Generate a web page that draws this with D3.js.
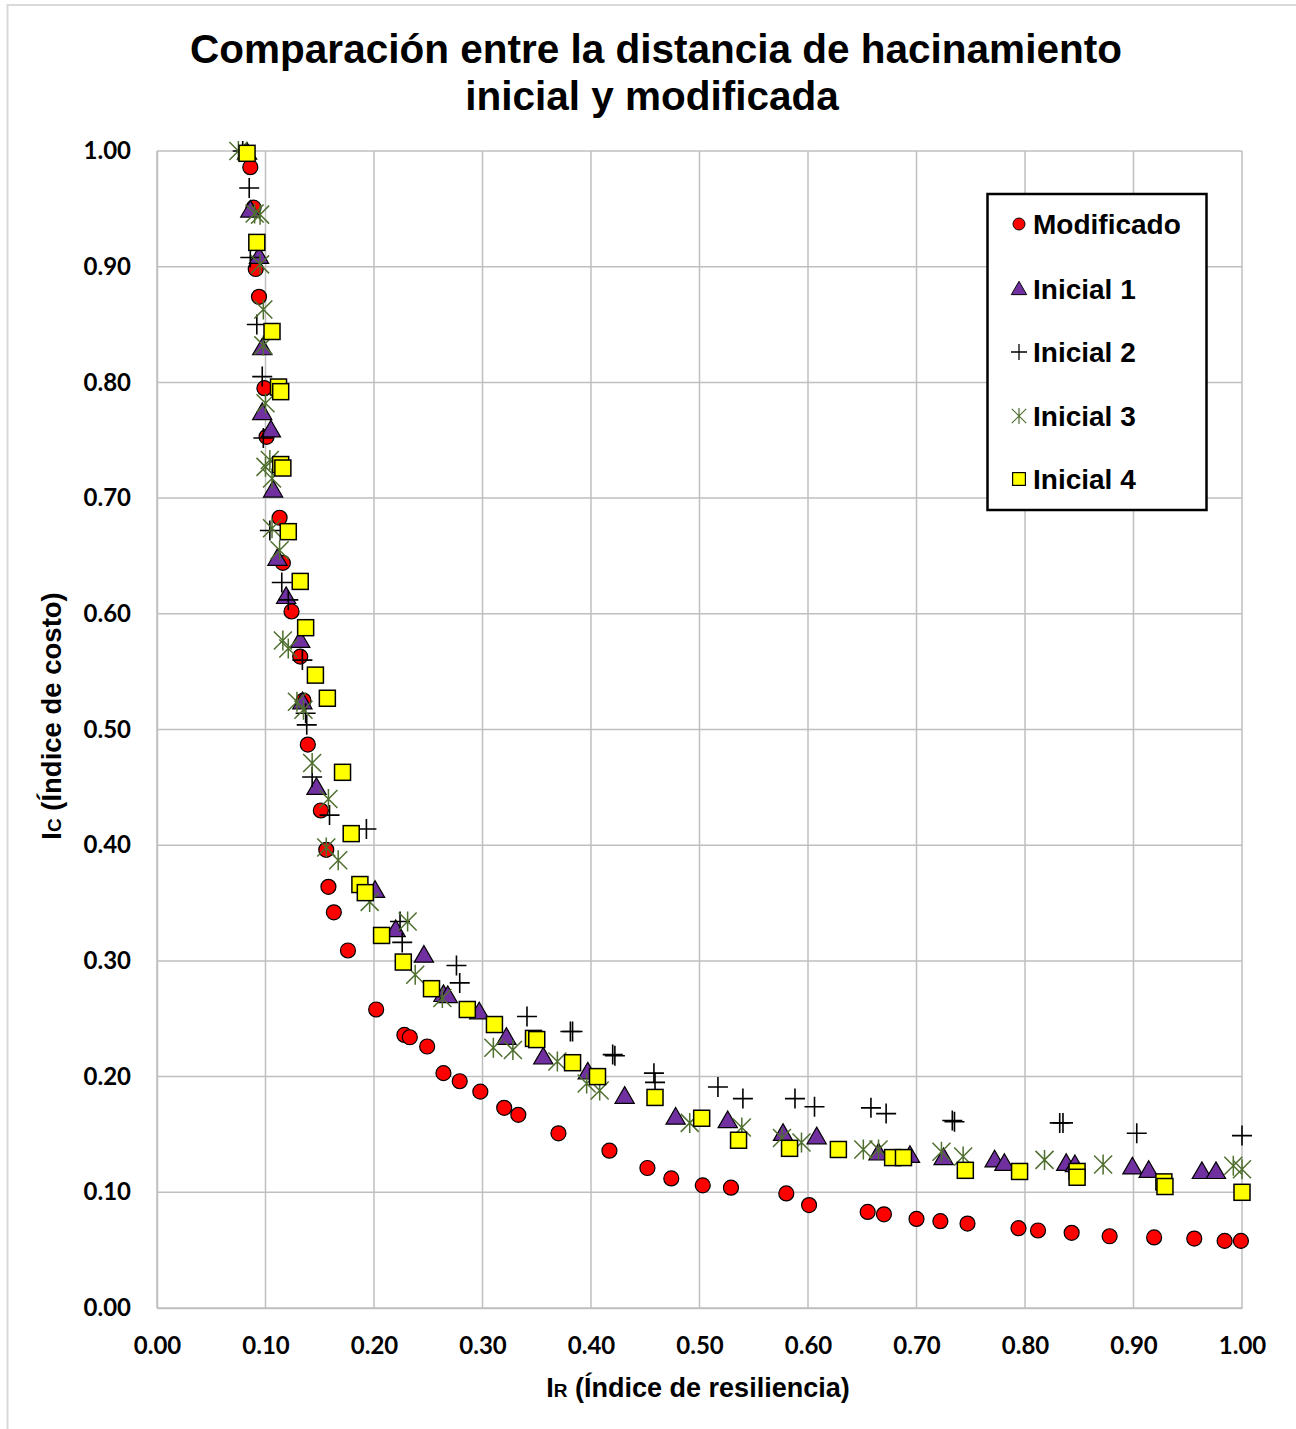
<!DOCTYPE html>
<html>
<head>
<meta charset="utf-8">
<script src="https://cdn.jsdelivr.net/npm/d3@7"></script>
<style>
  html, body { margin: 0; padding: 0; background: #fff; }
  svg { display: block; }
</style>
</head>
<body>
<svg id="chart" width="1296" height="1429"></svg>
<script>
// Curva de compromiso costo–resiliencia: IR (x) frente a IC (y)
const modificadoX = [0.086,0.089,0.091,0.094,0.099,0.101,0.113,0.116,0.124,0.132,0.135,0.139,0.151,0.156,0.158,0.163,0.176,0.202,0.228,0.233,0.249,0.264,0.279,0.298,0.320,0.333,0.370,0.417,0.452,0.474,0.503,0.529,0.580,0.601,0.655,0.670,0.700,0.722,0.747,0.794,0.812,0.843,0.878,0.919,0.956,0.984,0.999];
const modificadoY = [0.986,0.951,0.898,0.874,0.795,0.753,0.683,0.644,0.602,0.563,0.525,0.487,0.430,0.396,0.364,0.342,0.309,0.258,0.236,0.234,0.226,0.203,0.196,0.187,0.173,0.167,0.151,0.136,0.121,0.112,0.106,0.104,0.099,0.089,0.083,0.081,0.077,0.075,0.073,0.069,0.067,0.065,0.062,0.061,0.060,0.058,0.058];

const inicial1X = [0.083,0.086,0.094,0.097,0.097,0.105,0.107,0.111,0.119,0.132,0.134,0.147,0.201,0.220,0.246,0.264,0.268,0.297,0.322,0.356,0.397,0.431,0.478,0.526,0.577,0.608,0.665,0.694,0.725,0.772,0.781,0.838,0.846,0.899,0.914,0.963,0.976];
const inicial1Y = [0.999,0.949,0.909,0.830,0.774,0.759,0.707,0.648,0.615,0.577,0.524,0.450,0.361,0.327,0.305,0.271,0.270,0.256,0.234,0.217,0.204,0.183,0.165,0.162,0.151,0.148,0.134,0.132,0.130,0.128,0.125,0.125,0.124,0.122,0.119,0.118,0.118];

const inicial2X = [0.079,0.085,0.086,0.092,0.097,0.098,0.104,0.115,0.121,0.134,0.137,0.138,0.143,0.159,0.193,0.224,0.226,0.276,0.279,0.341,0.381,0.383,0.420,0.422,0.458,0.459,0.517,0.540,0.588,0.606,0.658,0.672,0.733,0.735,0.832,0.835,0.903,1.000];
const inicial2Y = [1.000,0.968,0.908,0.850,0.805,0.752,0.672,0.627,0.612,0.560,0.514,0.504,0.459,0.426,0.414,0.334,0.316,0.296,0.281,0.252,0.239,0.239,0.219,0.218,0.203,0.195,0.191,0.181,0.181,0.174,0.173,0.168,0.162,0.161,0.160,0.160,0.151,0.149];

const inicial3X = [0.075,0.090,0.095,0.095,0.098,0.098,0.100,0.104,0.100,0.106,0.106,0.113,0.116,0.121,0.129,0.135,0.143,0.158,0.156,0.167,0.196,0.231,0.238,0.263,0.310,0.328,0.369,0.396,0.408,0.491,0.539,0.576,0.594,0.651,0.665,0.723,0.743,0.818,0.872,0.992,1.000];
const inicial3Y = [1.000,0.946,0.945,0.902,0.863,0.832,0.782,0.733,0.727,0.717,0.674,0.655,0.577,0.570,0.524,0.517,0.471,0.440,0.398,0.387,0.351,0.334,0.288,0.268,0.225,0.223,0.213,0.194,0.188,0.160,0.156,0.147,0.143,0.137,0.137,0.135,0.131,0.128,0.124,0.123,0.120];

const inicial4X = [0.083,0.092,0.106,0.112,0.114,0.114,0.116,0.121,0.132,0.137,0.146,0.157,0.171,0.179,0.187,0.192,0.207,0.227,0.253,0.286,0.311,0.347,0.350,0.383,0.406,0.459,0.502,0.536,0.583,0.628,0.678,0.688,0.745,0.795,0.848,0.848,0.928,0.929,1.000];
const inicial4Y = [0.998,0.921,0.844,0.796,0.792,0.729,0.726,0.671,0.628,0.588,0.547,0.527,0.463,0.410,0.366,0.359,0.322,0.299,0.276,0.258,0.245,0.233,0.232,0.212,0.200,0.182,0.164,0.145,0.138,0.137,0.130,0.130,0.119,0.118,0.118,0.113,0.109,0.105,0.100];

const tickValues = [0,0.1,0.2,0.3,0.4,0.5,0.6,0.7,0.8,0.9,1.0];
const seriesNames = ["Modificado","Inicial 1","Inicial 2","Inicial 3","Inicial 4"];

const svg = d3.select("#chart");
const W = 1296, H = 1429;
const plot = {left: 157, right: 1242, top: 151, bottom: 1308};

const x = d3.scaleLinear().domain([0,1]).range([plot.left, plot.right]);
const y = d3.scaleLinear().domain([0,1]).range([plot.bottom, plot.top]);

// marco exterior del gráfico
svg.append("rect").attr("x",7.5).attr("y",5).attr("width",W+20).attr("height",H+20)
  .attr("fill","#fff").attr("stroke","#d9d9d9").attr("stroke-width",2);

// título
const title = svg.append("text").attr("text-anchor","middle")
  .attr("font-family","'Liberation Sans', Arial, sans-serif").attr("font-weight","bold")
  .attr("font-size",40.5).attr("fill","#000");
title.append("tspan").attr("x",656).attr("y",63).text("Comparación entre la distancia de hacinamiento");
title.append("tspan").attr("x",652).attr("y",110).text("inicial y modificada");

// cuadrícula
const grid = svg.append("g");
grid.selectAll("line.v").data(tickValues).join("line")
  .attr("x1",d=>x(d)).attr("x2",d=>x(d)).attr("y1",plot.top).attr("y2",plot.bottom)
  .attr("stroke","#bfbfbf").attr("stroke-width",1.5);
grid.selectAll("line.h").data(tickValues).join("line")
  .attr("x1",plot.left).attr("x2",plot.right).attr("y1",d=>y(d)).attr("y2",d=>y(d))
  .attr("stroke","#bfbfbf").attr("stroke-width",1.5);

// ejes
const fmt = d3.format(".2f");
const xAxis = svg.append("g").attr("transform",`translate(0,${plot.bottom})`)
  .call(d3.axisBottom(x).tickValues(tickValues).tickFormat(fmt).tickSize(0).tickPadding(29));
const yAxis = svg.append("g").attr("transform",`translate(${plot.left},0)`)
  .call(d3.axisLeft(y).tickValues(tickValues).tickFormat(fmt).tickSize(0).tickPadding(26));
[xAxis,yAxis].forEach(a=>{
  a.select(".domain").attr("stroke","#bfbfbf").attr("stroke-width",1.5);
  a.selectAll("text").attr("font-family","Lato, 'Open Sans', sans-serif")
    .attr("font-weight","bold").attr("font-size",24).attr("fill","#000");
});
xAxis.selectAll("text").attr("dy","0.71em");

// títulos de ejes
const axFont = "'Liberation Sans', Arial, sans-serif";
const xt = svg.append("text").attr("x",698).attr("y",1397).attr("text-anchor","middle")
  .attr("font-family",axFont).attr("font-weight","bold").attr("font-size",27).attr("fill","#000");
xt.append("tspan").text("I");
xt.append("tspan").attr("font-size",19).text("R");
xt.append("tspan").text(" (Índice de resiliencia)");

const yt = svg.append("text").attr("transform","translate(61,716) rotate(-90)").attr("text-anchor","middle")
  .attr("font-family",axFont).attr("font-weight","bold").attr("font-size",27.5).attr("fill","#000");
yt.append("tspan").text("I");
yt.append("tspan").attr("font-size",19).text("C");
yt.append("tspan").text(" (Índice de costo)");

// marcadores
function circle(g){ g.append("circle").attr("r",7.5).attr("fill","#ff0000").attr("stroke","#000").attr("stroke-width",1.2); }
function triangle(g){ g.append("path").attr("d",d3.symbol(d3.symbolTriangle,160)()).attr("transform","translate(0,1.5)")
  .attr("fill","#7030a0").attr("stroke","#000").attr("stroke-width",1.2); }
function plus(g){ g.append("path").attr("d","M-10,0H10M0,-10V10").attr("stroke","#000").attr("stroke-width",1.6).attr("fill","none"); }
function star(g){ g.append("path").attr("d","M-9,-9L9,9M-9,9L9,-9M0,-10V10").attr("stroke","#4f6f2f").attr("stroke-width",1.5).attr("fill","none"); }
function square(g){ g.append("rect").attr("x",-8).attr("y",-8).attr("width",16).attr("height",16)
  .attr("fill","#ffff00").attr("stroke","#000").attr("stroke-width",1.5); }

const series = [
  {xs: modificadoX, ys: modificadoY, draw: circle},
  {xs: inicial1X, ys: inicial1Y, draw: triangle},
  {xs: inicial2X, ys: inicial2Y, draw: plus},
  {xs: inicial3X, ys: inicial3Y, draw: star},
  {xs: inicial4X, ys: inicial4Y, draw: square}
];

// la serie modificada se dibuja al fondo, las iniciales encima
series.forEach((s,i)=>{
  const g = svg.append("g");
  s.xs.forEach((xv,j)=>{
    const m = g.append("g").attr("transform",`translate(${x(xv)},${y(s.ys[j])})`);
    s.draw(m);
  });
});

// leyenda
const leg = svg.append("g");
leg.append("rect").attr("x",987.5).attr("y",194).attr("width",219).attr("height",316)
  .attr("fill","#fff").attr("stroke","#000").attr("stroke-width",2.5);
const legY = [224,289,352,416,479];
seriesNames.forEach((n,i)=>{
  const m = leg.append("g").attr("transform",`translate(1019,${legY[i]}) scale(0.8)`);
  series[i].draw(m);
  leg.append("text").attr("x",1033).attr("y",legY[i]+10).attr("font-family",axFont)
    .attr("font-weight","bold").attr("font-size",28).attr("fill","#000").text(n);
});
</script>
</body>
</html>
